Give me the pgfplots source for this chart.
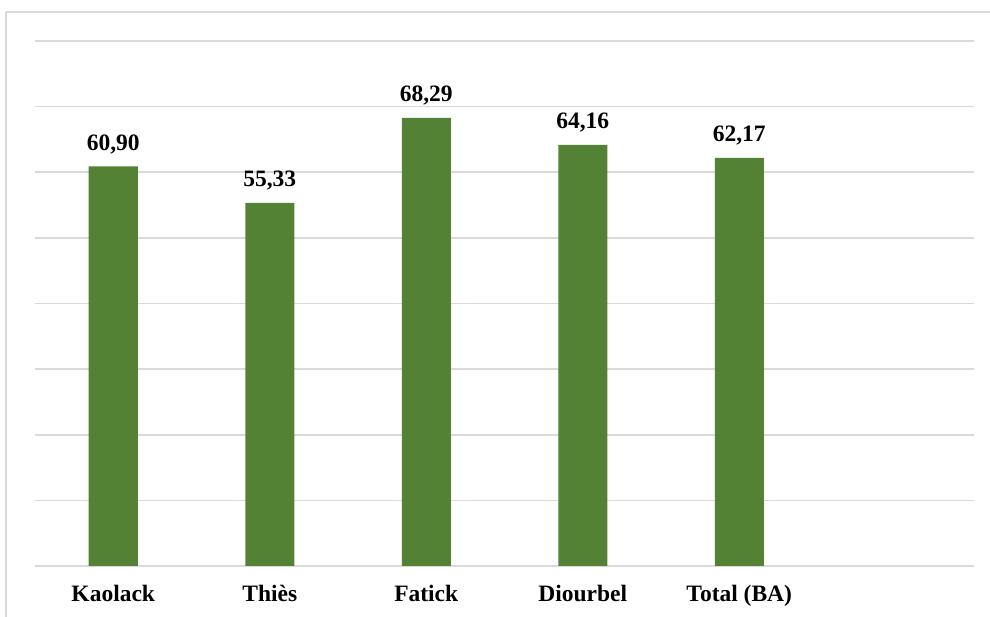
\documentclass[border=0pt]{standalone}
\usepackage{pgfplots}
\pgfplotsset{compat=1.18}
\usepackage{fontspec}
\setmainfont{Liberation Serif}
\definecolor{bargreen}{HTML}{548235}
\definecolor{gridgray}{HTML}{D9D9D9}
\begin{document}
\begin{tikzpicture}
\useasboundingbox (0pt,0pt) rectangle (990pt,617pt);
\draw[gridgray, line width=2pt] (6pt,605pt) -- (1000pt,605pt);
\draw[gridgray, line width=2pt] (6pt,605pt) -- (6pt,-10pt);
\begin{axis}[
  at={(35pt,51pt)}, anchor=south west, scale only axis,
  width=939pt, height=525pt,
  xmin=-0.5, xmax=5.5, ymin=0, ymax=80,
  ytick={0,10,...,80}, yticklabels={},
  ymajorgrids, grid style={gridgray, line width=1.6pt},
  axis line style={draw=none}, major tick length=0,
  xtick={0,1,2,3,4},
  xticklabels={Kaolack, Thiès, Fatick, Diourbel, Total (BA)},
  xticklabel style={font=\fontsize{23.5}{25}\selectfont\bfseries, anchor=base, yshift=-36pt},
  ybar, bar width=49pt,
  nodes near coords,
  nodes near coords style={font=\fontsize{23.5}{25}\selectfont\bfseries, anchor=base, yshift=16pt, text=black},
  clip=false,
  /pgf/number format/fixed,
  /pgf/number format/fixed zerofill,
  /pgf/number format/precision=2,
  /pgf/number format/use comma,
  /pgf/number format/assume math mode=true,
]
\addplot[fill=bargreen, draw=none] coordinates {(0,60.90) (1,55.33) (2,68.29) (3,64.16) (4,62.17)};
\end{axis}
\end{tikzpicture}
\end{document}
